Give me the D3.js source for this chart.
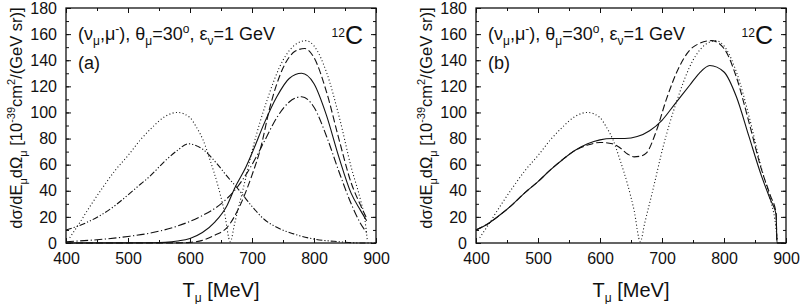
<!DOCTYPE html>
<html>
<head>
<meta charset="utf-8">
<script src="https://cdn.jsdelivr.net/npm/d3@7"></script>
<style>
  body { margin: 0; background: #fff; }
  svg { display: block; font-family: "Liberation Sans", Arial, sans-serif; }
</style>
</head>
<body>
<svg id="chart" width="801" height="304"></svg>
<script>
// --- data: [T_mu (MeV), dsigma (1e-39 cm^2/(GeV sr))]
const dottedQE = [[406,4],[420,14],[440,29],[460,43],[480,56],[500,67],[520,79],[540,89],[560,97],[580,100],[600,96],[610,89],[621,79],[632,64],[645,44],[655,25],[665,1],
                  [672,15],[685,40],[702,74],[724,109],[750,140],[770,152],[787,155],[800,151],[820,131],[842,94],[860,58],[875,33],[882,18],[886,2]];

const aSolid   = [[400,0],[540,0.2],[560,0.5],[580,1.5],[600,3.5],[620,8],[640,16],[660,29],[672,42],[690,58],[702,71],[720,92],[740,112],[760,126],[780,130],[800,122],[820,98],[840,66],[860,38],[875,25],[885,17]];
const aDashed  = [[400,0],[580,0.1],[600,0.5],[620,2],[640,6],[660,12],[680,28],[700,52],[713,71],[730,106],[750,134],[770,147],[785,149],[800,142],[820,116],[840,80],[860,46],[875,29],[885,19]];
const aDashDot = [[400,1],[450,2.5],[500,5],[540,8],[580,13],[620,21],[650,30],[675,42],[700,60],[720,78],[740,96],[760,108],[780,112],[800,104],[820,82],[840,55],[860,30],[875,15],[885,8]];
const aDashDot2 = [[400,10],[430,15],[455,21],[480,29],[498,36],[520,45],[535,51],[560,63],[580,71],[597,76],[620,72],[643,61],[660,51],[680,40],[700,28],[720,18],[740,12],[767,7],[800,3],[840,1],[875,0],[900,0]];

const bSolid   = [[400,10],[420,15],[440,22],[460,30],[480,39],[500,47],[520,56],[540,64],[560,71],[580,76],[600,79],[620,80],[640,80],[660,81.5],[680,86],[700,94],[720,106],[745,121],[760,130],[777,136],[800,131],[820,112],[840,82],[860,52],[875,33],[884,22],[885.5,0],[900,0]];
const bDashed  = [[400,10],[420,15],[440,22],[460,30],[480,39],[500,47],[520,56],[540,64],[560,71],[580,75],[600,77],[620,76],[632,73],[645,68],[655,66],[665,66.5],[675,69],[691,86],[707,110],[730,137],[750,150],[780,155],[800,149],[820,127],[840,93],[860,57],[875,36],[884,23],[885.5,0],[900,0]];

const xTicks = [400, 500, 600, 700, 800, 900];
const yTicks = [0, 20, 40, 60, 80, 100, 120, 140, 160, 180];
const panelTags = ["(a)", "(b)"];

const svg = d3.select("#chart");

function richText(g, x, y, parts, opts) {
  opts = opts || {};
  const base = opts.size || 18, small = Math.round(base * 0.66);
  const t = g.append("text").attr("x", x).attr("y", y).attr("fill", "#111");
  if (opts.anchor) t.attr("text-anchor", opts.anchor);
  if (opts.transform) t.attr("transform", opts.transform);
  let shift = 0;
  parts.forEach(p => {
    const target = p.sub ? Math.round(base * 0.28) : p.sup ? -Math.round(base * 0.4) : 0;
    t.append("tspan").text(p.t).attr("dy", target - shift)
      .attr("font-size", p.size || (p.sub || p.sup ? small : base));
    shift = target;
  });
  return t;
}

function drawPanel(x0, tag, series) {
  const x = d3.scaleLinear().domain([400, 900]).range([x0, x0 + 310]);
  const y = d3.scaleLinear().domain([0, 180]).range([243, 8]);
  const g = svg.append("g");

  const line = d3.line().x(d => x(d[0])).y(d => y(d[1])).curve(d3.curveMonotoneX);
  g.append("defs").append("clipPath").attr("id", "clip" + tag)
    .append("rect").attr("x", x0).attr("y", 8).attr("width", 310).attr("height", 235);
  series.forEach(s => {
    g.append("path").datum(s.data).attr("d", line)
      .attr("fill", "none").attr("stroke", "#111").attr("stroke-width", 1.1)
      .attr("stroke-dasharray", s.dash).attr("clip-path", `url(#clip${tag})`);
  });

  // inward ticks on all sides
  const minorX = d3.range(400, 901, 50), minorY = d3.range(0, 181, 10);
  g.append("g").attr("transform", "translate(0,243)")
    .call(d3.axisBottom(x).tickValues(minorX).tickSize(-3).tickFormat(""));
  g.append("g").attr("transform", "translate(0,243)")
    .call(d3.axisBottom(x).tickValues(xTicks).tickSize(-5).tickPadding(10).tickFormat(d3.format("d")));
  g.append("g").attr("transform", "translate(0,8)")
    .call(d3.axisTop(x).tickValues(minorX).tickSize(-3).tickFormat(""));
  g.append("g").attr("transform", "translate(0,8)")
    .call(d3.axisTop(x).tickValues(xTicks).tickSize(-5).tickFormat(""));
  g.append("g").attr("transform", `translate(${x0},0)`)
    .call(d3.axisLeft(y).tickValues(minorY).tickSize(-3).tickFormat(""));
  g.append("g").attr("transform", `translate(${x0},0)`)
    .call(d3.axisLeft(y).tickValues(yTicks).tickSize(-5).tickPadding(9).tickFormat(d3.format("d")));
  g.append("g").attr("transform", `translate(${x0 + 310},0)`)
    .call(d3.axisRight(y).tickValues(minorY).tickSize(-3).tickFormat(""));
  g.append("g").attr("transform", `translate(${x0 + 310},0)`)
    .call(d3.axisRight(y).tickValues(yTicks).tickSize(-5).tickFormat(""));
  g.selectAll(".domain").remove();
  g.selectAll(".tick line").attr("stroke", "#111").attr("stroke-width", 1);
  g.selectAll(".tick text").attr("font-size", 16).attr("fill", "#111")
    .attr("font-family", "Liberation Sans, Arial, sans-serif");

  g.append("rect").attr("x", x0).attr("y", 8).attr("width", 310).attr("height", 235)
    .attr("fill", "none").attr("stroke", "#111").attr("stroke-width", 1.3);

  // annotations
  richText(g, x0 + 12, 40, [
    {t: "(ν"}, {t: "μ", sub: true}, {t: ",μ"}, {t: "-", sup: true}, {t: "), θ"}, {t: "μ", sub: true},
    {t: "=30"}, {t: "o", sup: true}, {t: ", ε"}, {t: "ν", sub: true}, {t: "=1 GeV"}
  ]);
  richText(g, x0 + 12, 69, [{t: tag}]);
  richText(g, x0 + 297, 44, [{t: "12", sup: true, size: 12}, {t: "C", size: 25}], {anchor: "end"});

  richText(g, 0, 0, [
    {t: "dσ/dE"}, {t: "μ", sub: true}, {t: "dΩ"}, {t: "μ", sub: true}, {t: " [10"}, {t: "-39", sup: true},
    {t: "cm"}, {t: "2", sup: true}, {t: "/(GeV sr)]"}
  ], {anchor: "middle", size: 16.5, transform: `translate(${x0 - 44},118) rotate(-90)`});

  richText(g, x0 + 155, 297, [{t: "T", size: 20}, {t: "μ", sub: true}, {t: " [MeV]", size: 20}], {anchor: "middle"});
}

drawPanel(66, panelTags[0], [
  {data: dottedQE, dash: "1,2.4"},
  {data: aDashDot2, dash: "6,2,1.2,2,1.2,2"},
  {data: aDashDot, dash: "8,2.5,1.2,2.5"},
  {data: aDashed, dash: "7,3"},
  {data: aSolid, dash: null}
]);
drawPanel(476, panelTags[1], [
  {data: dottedQE, dash: "1,2.4"},
  {data: bDashed, dash: "7,3"},
  {data: bSolid, dash: null}
]);
</script>
</body>
</html>
